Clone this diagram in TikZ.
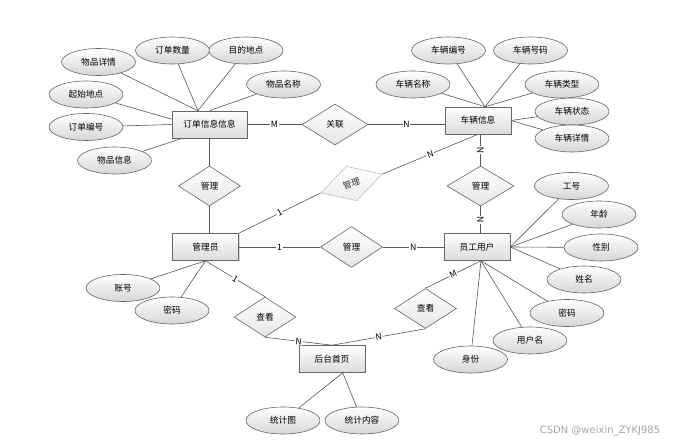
\documentclass[tikz,border=0pt]{standalone}
\usepackage{fontspec}
\setmainfont{Noto Sans CJK SC}
\newfontfamily\markfont{DejaVu Sans}
\usetikzlibrary{shapes.geometric, shadows}

\tikzset{
  ent/.style={draw=black!60, line width=0.6pt, top color=white, bottom color=black!14,
    minimum width=66pt, minimum height=27pt, inner sep=0,
    drop shadow={shadow xshift=1pt, shadow yshift=-1pt, opacity=.3}},
  attr/.style={ellipse, draw=black!60, line width=0.6pt, top color=white, bottom color=black!16,
    minimum width=74pt, minimum height=27pt, inner sep=0},
  rel/.style={diamond, draw=black!60, line width=0.6pt, top color=white, bottom color=black!10,
    minimum width=62pt, minimum height=40pt, inner sep=0},
  lbl/.style={fill=white, inner sep=0.8pt, sloped},
  conn/.style={draw=black!65, line width=0.6pt}
}

\begin{document}
\begin{tikzpicture}[x=1pt, y=-1pt, every node/.style={font=\fontsize{8.7pt}{10pt}\selectfont}]
      \fill [white] (0,0) rectangle (681,446);
      \useasboundingbox (0,0) rectangle (681,446);

      % entities
      \node [ent, minimum width=75pt] (order) at (209.5,124.5) {订单信息信息};
      \node [ent] (car) at (478,120.5) {车辆信息};
      \node [ent] (admin) at (205.5,247) {管理员};
      \node [ent] (staff) at (477,247) {员工用户};
      \node [ent] (home) at (332,359) {后台首页};

      % relations
      \node [rel, minimum width=66pt, minimum height=41pt] (link) at (335,124.5) {关联};
      \node [rel] (mgrA) at (209.5,186) {管理};
      \node [rel, minimum width=67pt] (mgrB) at (480.5,186) {管理};
      \node [rel, minimum height=41pt] (mgrC) at (351.5,247) {管理};
      \node [rel, rotate=17, draw=black!25, bottom color=black!7, text=black!80,
        minimum width=64pt, minimum height=36pt] (mgrD) at (351.5,183.5) {管理};
      \node [rel] (viewA) at (265,317) {查看};
      \node [rel] (viewB) at (425.5,308.5) {查看};

      % attributes of 订单信息信息
      \node [attr] (o1) at (98.5,62) {物品详情};
      \node [attr] (o2) at (172.5,50.5) {订单数量};
      \node [attr] (o3) at (246,50.5) {目的地点};
      \node [attr] (o4) at (283.5,84.5) {物品名称};
      \node [attr] (o5) at (86,94.5) {起始地点};
      \node [attr] (o6) at (86,127) {订单编号};
      \node [attr] (o7) at (114.5,160.5) {物品信息};

      % attributes of 车辆信息
      \node [attr] (c1) at (448.5,50.5) {车辆编号};
      \node [attr] (c2) at (530.5,50.5) {车辆号码};
      \node [attr] (c3) at (413,84.5) {车辆名称};
      \node [attr] (c4) at (562,84.5) {车辆类型};
      \node [attr] (c5) at (572,111.5) {车辆状态};
      \node [attr] (c6) at (572,138.5) {车辆详情};

      % attributes of 管理员
      \node [attr] (a1) at (123,288) {账号};
      \node [attr] (a2) at (172,310.5) {密码};

      % attributes of 员工用户
      \node [attr] (s1) at (571.5,186) {工号};
      \node [attr] (s2) at (599,214.5) {年龄};
      \node [attr] (s3) at (601,247.5) {性别};
      \node [attr] (s4) at (584,279.5) {姓名};
      \node [attr] (s5) at (567,313) {密码};
      \node [attr] (s6) at (530,340.5) {用户名};
      \node [attr] (s7) at (470.5,359.5) {身份};

      % attributes of 后台首页
      \node [attr] (h1) at (283,420.5) {统计图};
      \node [attr] (h2) at (362,420.5) {统计内容};

      \draw [conn] (o1) -- (order.130);
      \draw [conn] (o2) -- (order.130);
      \draw [conn] (o3) -- (order.130);
      \draw [conn] (o4) -- (order.north);
      \draw [conn] (o5) -- (order.172);
      \draw [conn] (o6) -- (order.west);
      \draw [conn] (o7) -- (order.207);

      \draw [conn] (c1) -- (car.63);
      \draw [conn] (c2) -- (car.63);
      \draw [conn] (c3) -- (car.63);
      \draw [conn] (c4) -- (car.63);
      \draw [conn] (c5) -- (car.east);
      \draw [conn] (c6) -- (car.east);

      \draw [conn] (a1) -- (admin.south);
      \draw [conn] (a2) -- (admin.south);

      \draw [conn] (s1) -- (staff.east);
      \draw [conn] (s2) -- (staff.east);
      \draw [conn] (s3) -- (staff.east);
      \draw [conn] (s4) -- (staff.east);
      \draw [conn] (s5) -- (staff.286);
      \draw [conn] (s6) -- (staff.286);
      \draw [conn] (s7) -- (staff.286);

      \draw [conn] (h1) -- (home.308);
      \draw [conn] (h2) -- (home.308);

      % relation lines
      \draw [conn] (order) -- node[lbl] {M} (link);
      \draw [conn] (link) -- node[lbl] {N} (link -| car.west);
      \draw [conn] (order) -- (mgrA);
      \draw [conn] (mgrA) -- (mgrA |- admin.north);
      \draw [conn] (mgrB) -- node[lbl] {N} (mgrB |- car.south);
      \draw [conn] (mgrB) -- node[lbl] {N} (mgrB |- staff.north);
      \draw [conn] (admin) -- node[lbl] {1} (mgrC);
      \draw [conn] (mgrC) -- node[lbl] {N} (staff);
      \draw [conn] (admin.north east) -- node[lbl] {1} (mgrD.west);
      \draw [conn] (mgrD.east) -- node[lbl] {N} (car.south);
      \draw [conn] (admin.south) -- node[lbl] {1} (viewA.north);
      \draw [conn] (viewA.south) -- node[lbl] {N} (home.north);
      \draw [conn] (home.north) -- node[lbl] {N} (viewB.south);
      \draw [conn] (viewB.north) -- node[lbl] {M} (staff.286);

      \node [text=black!35, font=\markfont\fontsize{10pt}{12pt}\selectfont] (mark) at (600,431) {CSDN @weixin\_ZYKJ985};
\end{tikzpicture}
\end{document}
